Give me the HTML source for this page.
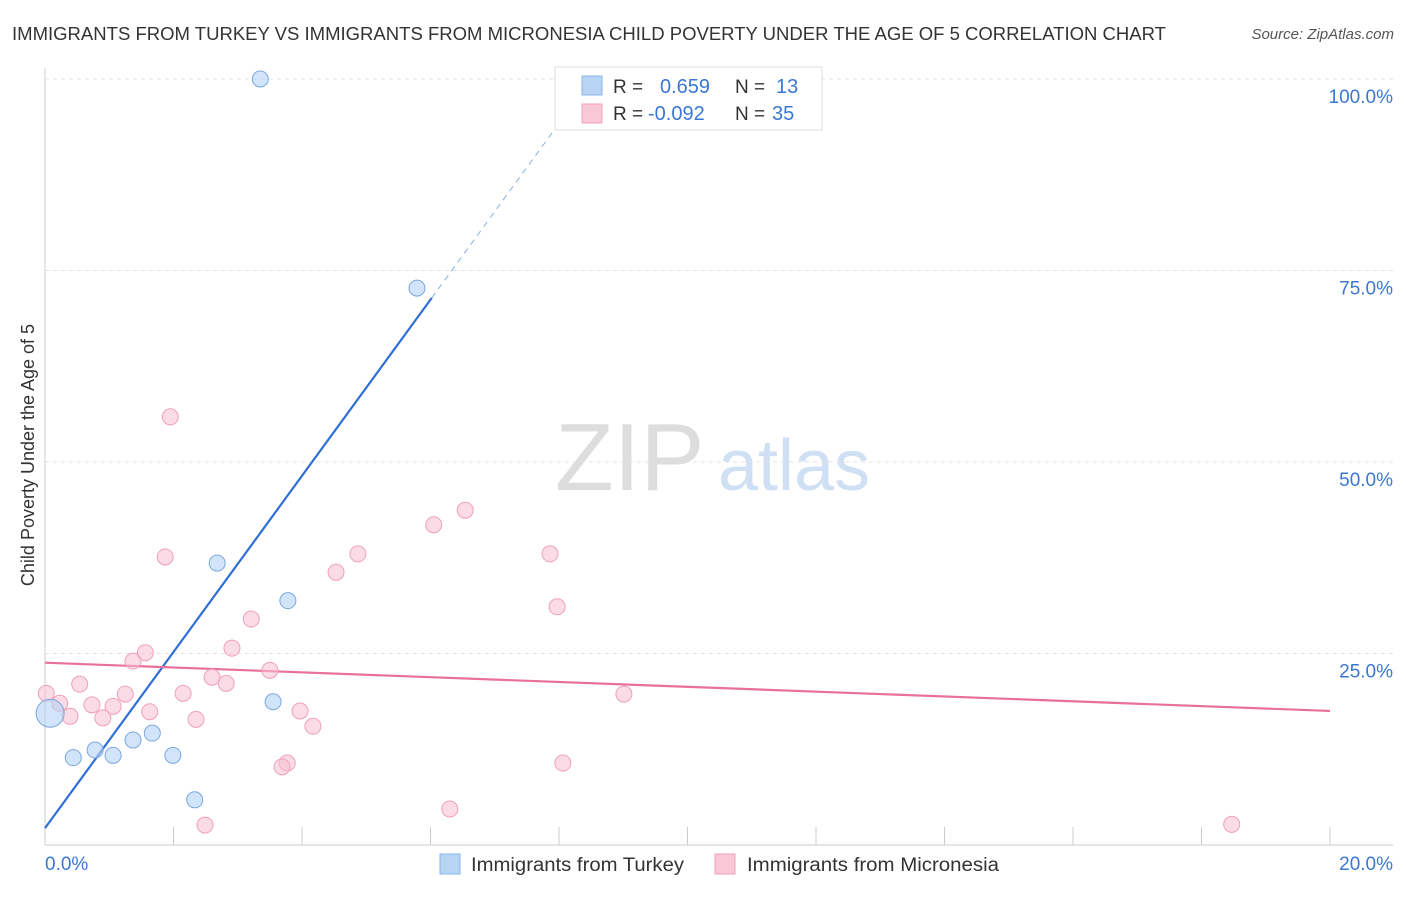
<!DOCTYPE html>
<html><head><meta charset="utf-8"><style>
body{margin:0;background:#fff;font-family:"Liberation Sans",sans-serif;}
svg text{font-family:"Liberation Sans",sans-serif;}
</style></head><body>
<svg width="1406" height="892" id="chart">
<text x="12" y="40" font-size="18" fill="#333" textLength="1154" lengthAdjust="spacingAndGlyphs">IMMIGRANTS FROM TURKEY VS IMMIGRANTS FROM MICRONESIA CHILD POVERTY UNDER THE AGE OF 5 CORRELATION CHART</text>
<text x="1394" y="39" font-size="15" fill="#555" font-style="italic" text-anchor="end">Source: ZipAtlas.com</text>
<text x="34" y="455" font-size="18" fill="#333" text-anchor="middle" transform="rotate(-90 34 455)">Child Poverty Under the Age of 5</text>
<text x="555" y="490" font-size="96" fill="#ddd" font-family="Liberation Serif">ZIP</text>
<text x="718" y="490" font-size="72" fill="#cfe0f5">atlas</text>
<g id="grid"></g><g id="lines"></g><g id="pts"></g>
<g>
<rect x="555" y="67" width="267" height="63" fill="#fff" stroke="#ddd"/>
<rect x="582" y="76" width="20" height="19" fill="#b8d4f5" stroke="#8ab4e8"/>
<rect x="582" y="104" width="20" height="19" fill="#f9c8d6" stroke="#f0a0b8"/>
<text x="613" y="93" font-size="19" fill="#333">R =</text>
<text x="660" y="93" font-size="20" fill="#3a78d4">0.659</text>
<text x="735" y="93" font-size="19" fill="#333">N =</text>
<text x="776" y="93" font-size="20" fill="#3a78d4">13</text>
<text x="613" y="120" font-size="19" fill="#333">R =</text>
<text x="648" y="120" font-size="20" fill="#3a78d4">-0.092</text>
<text x="735" y="120" font-size="19" fill="#333">N =</text>
<text x="772" y="120" font-size="20" fill="#3a78d4">35</text>
</g>
<g>
<rect x="440" y="854" width="20" height="20" fill="#b8d4f5" stroke="#8ab4e8"/>
<text x="471" y="871" font-size="19" fill="#333" textLength="213" lengthAdjust="spacingAndGlyphs">Immigrants from Turkey</text>
<rect x="715" y="854" width="20" height="20" fill="#f9c8d6" stroke="#f0a0b8"/>
<text x="747" y="871" font-size="19" fill="#333" textLength="252" lengthAdjust="spacingAndGlyphs">Immigrants from Micronesia</text>
</g>
</svg>
<script>
const yTicks=[25,50,75,100];
const xTickLabels=["0.0%","20.0%"];
const turkeyX=[3.35,5.79,2.68,3.78,3.55,1.67,1.37,0.78,1.06,0.44,1.99,2.33,0.08];
const turkeyY=[100,72.7,36.8,31.9,18.7,14.6,13.7,12.4,11.7,11.4,11.7,5.9,17.2];
const micX=[1.95,1.87,6.54,6.05,4.87,4.53,7.86,7.97,3.21,2.91,1.56,1.37,3.5,2.6,2.82,0.54,0.02,1.25,2.15,9.01,0.73,1.06,0.23,1.63,3.97,0.39,0.9,2.35,4.17,3.77,3.69,8.06,6.3,2.49,18.47];
const micY=[55.9,37.6,43.7,41.8,38,35.6,38,31.1,29.5,25.7,25.1,24,22.8,21.9,21.1,21,19.8,19.7,19.8,19.7,18.3,18.1,18.5,17.4,17.5,16.8,16.6,16.4,15.5,10.7,10.2,10.7,4.7,2.6,2.7];
const turkeyFit=[2.2,11.5];
const micFit=[23.8,-0.315];
const NS="http://www.w3.org/2000/svg";
const X=v=>45+v*64.25, Y=v=>845-v*7.66;
function mk(t,a,p){const e=document.createElementNS(NS,t);for(const k in a)e.setAttribute(k,a[k]);document.getElementById(p).appendChild(e);return e;}
const g=mk("line",{x1:45,y1:845,x2:1393,y2:845,stroke:"#ccc"},"grid");

const ya=mk("line",{x1:45,y1:68,x2:45,y2:845,stroke:"#ccc"},"grid");

for(let i=1;i<=10;i++){const t=mk("line",{x1:X(i*2),y1:827,x2:X(i*2),y2:845,stroke:"#ccc"},"grid");
}
yTicks.forEach(v=>{const l=mk("line",{x1:45,y1:Y(v),x2:1393,y2:Y(v),stroke:"#e3e3e3","stroke-dasharray":"4 4"},"grid");

const t=mk("text",{x:1393,y:Y(v)+24,"font-size":19,fill:"#3a78d4","text-anchor":"end"},"grid");t.textContent=v.toFixed(1)+"%";
});
const xl0=mk("text",{x:45,y:870,"font-size":19,fill:"#3a78d4"},"grid");xl0.textContent=xTickLabels[0];

const xl1=mk("text",{x:1393,y:870,"font-size":19,fill:"#3a78d4","text-anchor":"end"},"grid");xl1.textContent=xTickLabels[1];

const f=x=>turkeyFit[0]+turkeyFit[1]*x, h=x=>micFit[0]+micFit[1]*x;
const b1=mk("line",{x1:X(0),y1:Y(f(0)),x2:X(6.02),y2:Y(f(6.02)),stroke:"#2f6fd6","stroke-width":2.2},"lines");

const b2=mk("line",{x1:X(6.02),y1:Y(f(6.02)),x2:X(8.1),y2:Y(f(8.1)),stroke:"#8ab0e0","stroke-width":1,"stroke-dasharray":"6 5"},"lines");

const p1=mk("line",{x1:X(0),y1:Y(h(0)),x2:X(20),y2:Y(h(20)),stroke:"#e8709a","stroke-width":2.2},"lines");

micX.forEach((x,i)=>{const c=mk("circle",{cx:X(x),cy:Y(micY[i]),r:8,fill:"rgba(248,190,208,0.55)",stroke:"#f0a0b8","stroke-width":1},"pts");
});
turkeyX.forEach((x,i)=>{const c=mk("circle",{cx:X(x),cy:Y(turkeyY[i]),r:i==12?14:8,fill:"rgba(180,210,245,0.6)",stroke:"#7aa8e0","stroke-width":1},"pts");
});
</script>
</body></html>
